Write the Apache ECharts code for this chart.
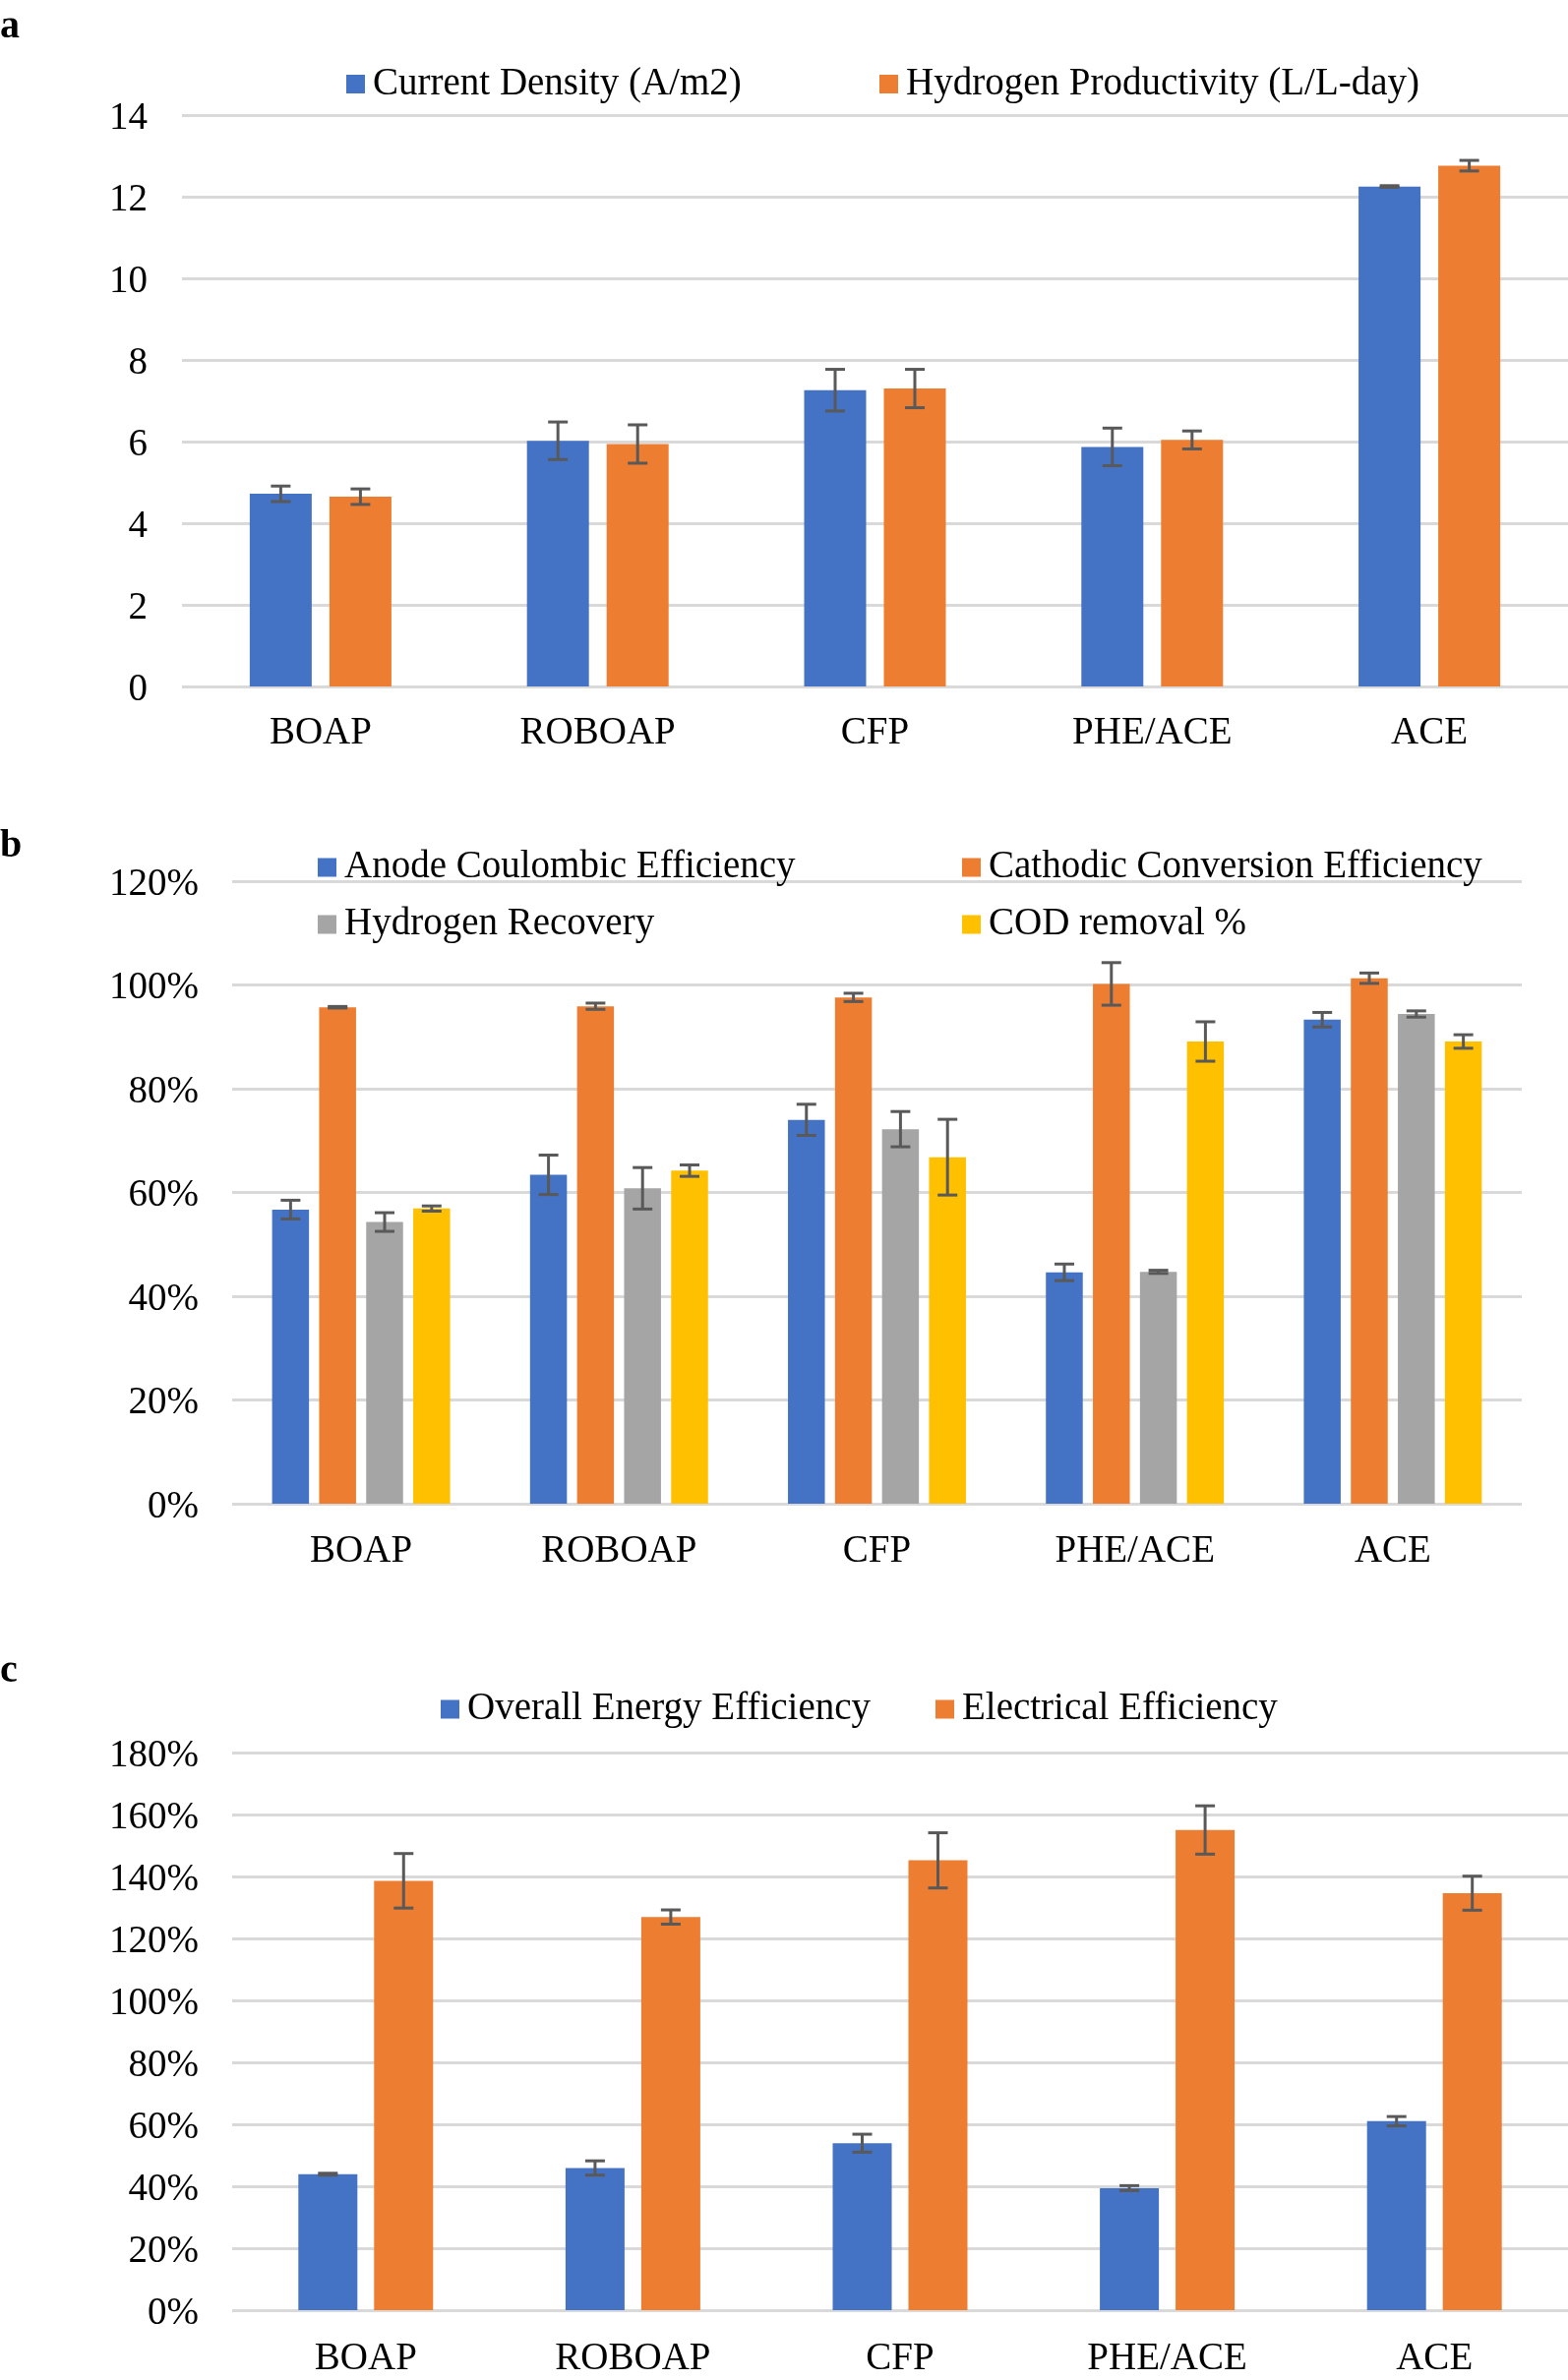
<!DOCTYPE html>
<html>
<head>
<meta charset="utf-8">
<script src="https://cdn.jsdelivr.net/npm/echarts@6/dist/echarts.min.js"></script>
<style>
html,body{margin:0;padding:0;background:#fff;}
#chart{width:1594px;height:2420px;}
</style>
</head>
<body>
<div id="chart"></div>
<script>
// ---------- DATA ----------
const categories = ['BOAP', 'ROBOAP', 'CFP', 'PHE/ACE', 'ACE'];

// Panel a
const currentDensity = [4.72, 6.02, 7.26, 5.87, 12.25];
const currentDensityErr = [0.19, 0.46, 0.51, 0.46, 0.02];
const hydrogenProductivity = [4.65, 5.94, 7.30, 6.04, 12.76];
const hydrogenProductivityErr = [0.19, 0.47, 0.47, 0.22, 0.13];
const aTicks = { min: 0, max: 14, interval: 2 };

// Panel b (%)
const anodeCE = [56.7, 63.4, 74.0, 44.6, 93.3];
const anodeCEErr = [1.8, 3.8, 3.0, 1.6, 1.4];
const cathodicCE = [95.7, 95.9, 97.6, 100.2, 101.3];
const cathodicCEErr = [0.15, 0.6, 0.8, 4.1, 1.0];
const hydrogenRecovery = [54.3, 60.8, 72.2, 44.7, 94.4];
const hydrogenRecoveryErr = [1.8, 4.0, 3.4, 0.3, 0.6];
const codRemoval = [56.9, 64.2, 66.8, 89.1, 89.1];
const codRemovalErr = [0.5, 1.1, 7.3, 3.8, 1.3];
const bTicks = { min: 0, max: 120, interval: 20 };

// Panel c (%)
const overallEnergyEff = [43.9, 45.9, 53.9, 39.4, 61.0];
const overallEnergyEffErr = [0.3, 2.3, 2.9, 0.8, 1.5];
const electricalEff = [138.6, 126.9, 145.2, 155.0, 134.6];
const electricalEffErr = [8.8, 2.3, 8.9, 7.8, 5.5];
const cTicks = { min: 0, max: 180, interval: 20 };

// ---------- STYLE ----------
const FONT = 'Liberation Serif';
const FS = 39;
const BLUE = '#4472C4', ORANGE = '#ED7D31', GRAY = '#A5A5A5', YELLOW = '#FFC000';
const ERR = '#595959';

const chart = echarts.init(document.getElementById('chart'), null, { renderer: 'canvas' });

function xAxis(grid, margin) {
  return {
    type: 'category', gridIndex: grid, data: categories,
    axisLine: { show: false }, axisTick: { show: false },
    axisLabel: { fontFamily: FONT, fontSize: FS, color: '#000', margin: margin }
  };
}
function yAxis(grid, t, pct, margin) {
  return {
    type: 'value', gridIndex: grid, min: t.min, max: t.max, interval: t.interval,
    axisLine: { show: false }, axisTick: { show: false },
    splitLine: { lineStyle: { color: '#D9D9D9', width: 3 } },
    axisLabel: { fontFamily: FONT, fontSize: FS, color: '#000', margin: margin,
      verticalAlign: 'top', lineHeight: 39, padding: [-16, 0, 0, 0],
      formatter: pct ? '{value}%' : '{value}' }
  };
}
function bar(name, grid, data, color, w, gap) {
  return {
    type: 'bar', name: name, xAxisIndex: grid, yAxisIndex: grid, data: data,
    barWidth: w, barGap: gap, itemStyle: { color: color }, z: 2
  };
}
function errBars(grid, values, errs, idx, n, w, gapRatio) {
  const data = values.map((v, i) => [i, v, errs[i]]);
  return {
    type: 'custom', xAxisIndex: grid, yAxisIndex: grid, z: 10, silent: true,
    data: data,
    renderItem: function (params, api) {
      const ci = api.value(0), v = api.value(1), e = api.value(2);
      const c = api.coord([ci, v]);
      const total = n * w + (n - 1) * gapRatio * w;
      const x = c[0] - total / 2 + w / 2 + idx * (w + gapRatio * w);
      const yt = api.coord([ci, v + e])[1];
      const yb = api.coord([ci, v - e])[1];
      const cap = 10;
      const st = { stroke: ERR, lineWidth: 3 };
      return {
        type: 'group', children: [
          { type: 'line', shape: { x1: x, y1: yt, x2: x, y2: yb }, style: st },
          { type: 'line', shape: { x1: x - cap, y1: yt, x2: x + cap, y2: yt }, style: st },
          { type: 'line', shape: { x1: x - cap, y1: yb, x2: x + cap, y2: yb }, style: st }
        ]
      };
    }
  };
}
function leg(name, left, centerY) {
  return {
    data: [name], left: left, top: centerY - 19.5 + 4, padding: 0,
    icon: 'rect', itemWidth: 19, itemHeight: 19, itemGap: 0, selectedMode: false,
    itemStyle: {},
    textStyle: { fontFamily: FONT, fontSize: FS, color: '#000', lineHeight: 39,
      padding: [0, 0, 0, 3] }
  };
}

const NA = 'Current Density (A/m2)', NB = 'Hydrogen Productivity (L/L-day)';
const B1 = 'Anode Coulombic Efficiency', B2 = 'Cathodic Conversion Efficiency',
      B3 = 'Hydrogen Recovery', B4 = 'COD removal %';
const C1 = 'Overall Energy Efficiency', C2 = 'Electrical Efficiency';

const wA = 63, gA = 0.286;
const wB = 37.5, gB = 0.275;
const wC = 60, gC = 0.283;

const option = {
  backgroundColor: '#fff',
  animation: false,
  grid: [
    { left: 185, top: 117, width: 1409, height: 581 },
    { left: 236, top: 896, width: 1311, height: 633 },
    { left: 236, top: 1782, width: 1358, height: 567 }
  ],
  xAxis: [xAxis(0, 28), xAxis(1, 29), xAxis(2, 30)],
  yAxis: [yAxis(0, aTicks, false, 35), yAxis(1, bTicks, true, 34), yAxis(2, cTicks, true, 34)],
  legend: [
    leg(NA, 352, 81.5), leg(NB, 894, 81.5),
    leg(B1, 323, 878), leg(B2, 978, 878), leg(B3, 323, 936), leg(B4, 978, 936),
    leg(C1, 448, 1734), leg(C2, 951, 1734)
  ],
  graphic: [
    { type: 'text', left: 0, top: 8, style: { text: 'a', font: 'bold 40px ' + FONT, fill: '#000' } },
    { type: 'text', left: 0, top: 841, style: { text: 'b', font: 'bold 40px ' + FONT, fill: '#000' } },
    { type: 'text', left: 0, top: 1680, style: { text: 'c', font: 'bold 40px ' + FONT, fill: '#000' } }
  ],
  series: [
    bar(NA, 0, currentDensity, BLUE, wA, (gA * 100) + '%'),
    bar(NB, 0, hydrogenProductivity, ORANGE, wA, (gA * 100) + '%'),
    errBars(0, currentDensity, currentDensityErr, 0, 2, wA, gA),
    errBars(0, hydrogenProductivity, hydrogenProductivityErr, 1, 2, wA, gA),

    bar(B1, 1, anodeCE, BLUE, wB, (gB * 100) + '%'),
    bar(B2, 1, cathodicCE, ORANGE, wB, (gB * 100) + '%'),
    bar(B3, 1, hydrogenRecovery, GRAY, wB, (gB * 100) + '%'),
    bar(B4, 1, codRemoval, YELLOW, wB, (gB * 100) + '%'),
    errBars(1, anodeCE, anodeCEErr, 0, 4, wB, gB),
    errBars(1, cathodicCE, cathodicCEErr, 1, 4, wB, gB),
    errBars(1, hydrogenRecovery, hydrogenRecoveryErr, 2, 4, wB, gB),
    errBars(1, codRemoval, codRemovalErr, 3, 4, wB, gB),

    bar(C1, 2, overallEnergyEff, BLUE, wC, (gC * 100) + '%'),
    bar(C2, 2, electricalEff, ORANGE, wC, (gC * 100) + '%'),
    errBars(2, overallEnergyEff, overallEnergyEffErr, 0, 2, wC, gC),
    errBars(2, electricalEff, electricalEffErr, 1, 2, wC, gC)
  ]
};
chart.setOption(option);
</script>
</body>
</html>
